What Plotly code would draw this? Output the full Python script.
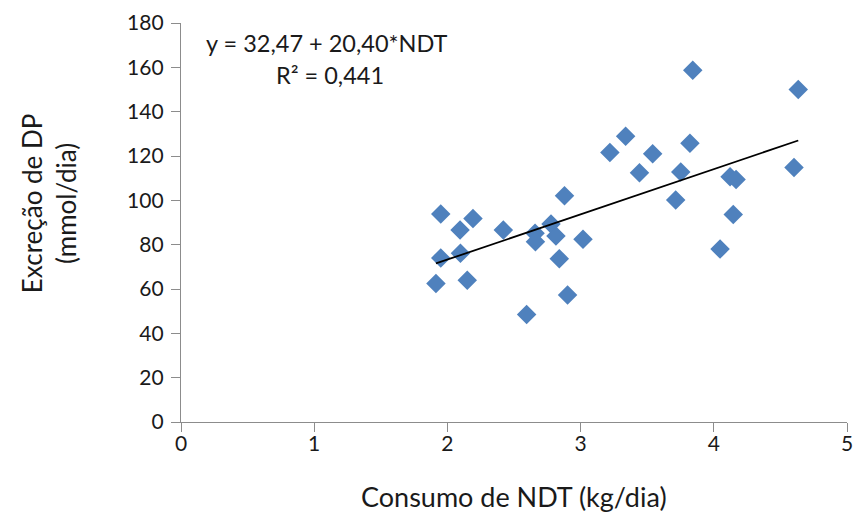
import plotly.graph_objects as go

consumo_ndt = [1.914, 1.950, 1.950, 2.095, 2.098, 2.149, 2.192, 2.420, 2.595, 2.658,
               2.661, 2.778, 2.815, 2.840, 2.879, 2.902, 3.018, 3.220, 3.338, 3.442,
               3.541, 3.714, 3.752, 3.821, 3.842, 4.047, 4.122, 4.167, 4.146, 4.602, 4.634]
excrecao_dp = [62.5, 93.8, 74.0, 86.6, 76.1, 64.0, 91.8, 86.6, 48.5, 85.2,
               81.3, 89.3, 83.9, 73.7, 102.1, 57.3, 82.4, 121.6, 128.9, 112.5,
               121.0, 100.1, 112.8, 125.7, 158.7, 78.0, 110.6, 109.4, 93.6, 114.8, 150.0]
intercept = 32.47
slope = 20.40
x_ticks = [0, 1, 2, 3, 4, 5]
y_ticks = [0, 20, 40, 60, 80, 100, 120, 140, 160, 180]

xmin, xmax = min(consumo_ndt), max(consumo_ndt)
fit_x = [xmin, xmax]
fit_y = [intercept + slope * v for v in fit_x]

font_family = "Lato, 'Open Sans', sans-serif"
txt = "#1a1a1a"

fig = go.Figure()
fig.add_trace(go.Scatter(
    x=consumo_ndt, y=excrecao_dp, mode="markers",
    marker=dict(symbol="diamond", size=15, color="#4F81BD",
                line=dict(width=0)),
    showlegend=False, hoverinfo="x+y"))
fig.add_trace(go.Scatter(
    x=fit_x, y=fit_y, mode="lines",
    line=dict(color="black", width=1.8), showlegend=False))

fig.add_annotation(
    x=(327 - 181) / 666, y=(422 - 43) / 399.3, xref="paper", yref="paper",
    xanchor="center", yanchor="middle",
    text="y = 32,47 + 20,40*NDT", showarrow=False,
    font=dict(family=font_family, size=23.5, color=txt))
fig.add_annotation(
    x=(330 - 181) / 666, y=(422 - 75) / 399.3, xref="paper", yref="paper",
    xanchor="center", yanchor="middle",
    text="R² = 0,441", showarrow=False,
    font=dict(family=font_family, size=23.5, color=txt))

# axis titles
fig.add_annotation(
    x=0.5, y=(422 - 497) / 399.3, xref="paper", yref="paper",
    xanchor="center", yanchor="middle",
    text="Consumo de NDT (kg/dia)", showarrow=False,
    font=dict(family=font_family, size=27, color=txt))
fig.add_annotation(
    x=(49 - 181) / 666, y=(422 - 203) / 399.3, xref="paper", yref="paper",
    xanchor="center", yanchor="middle", textangle=-90,
    text="Excreção de DP<br>(mmol/dia)", showarrow=False,
    font=dict(family=font_family, size=26, color=txt))

axis_common = dict(showgrid=False, zeroline=False, showline=True,
                   linecolor="#8c8c8c", linewidth=1.3, automargin=False,
                   ticks="outside", ticklen=9, tickcolor="#8c8c8c", tickwidth=1.3,
                   tickfont=dict(family=font_family, size=21, color=txt))

fig.update_layout(
    width=856, height=515,
    margin=dict(l=181, r=9, t=23, b=93),
    plot_bgcolor="white", paper_bgcolor="white",
    xaxis=dict(range=[0, 5], tickvals=x_ticks, ticklabelstandoff=-6, **axis_common),
    yaxis=dict(range=[0, 180], tickvals=y_ticks, ticklabelstandoff=3, **axis_common),
)

fig.write_html("out.html", config={"displayModeBar": False},
               post_script="document.body.style.margin='0px';document.body.style.overflow='hidden';")
